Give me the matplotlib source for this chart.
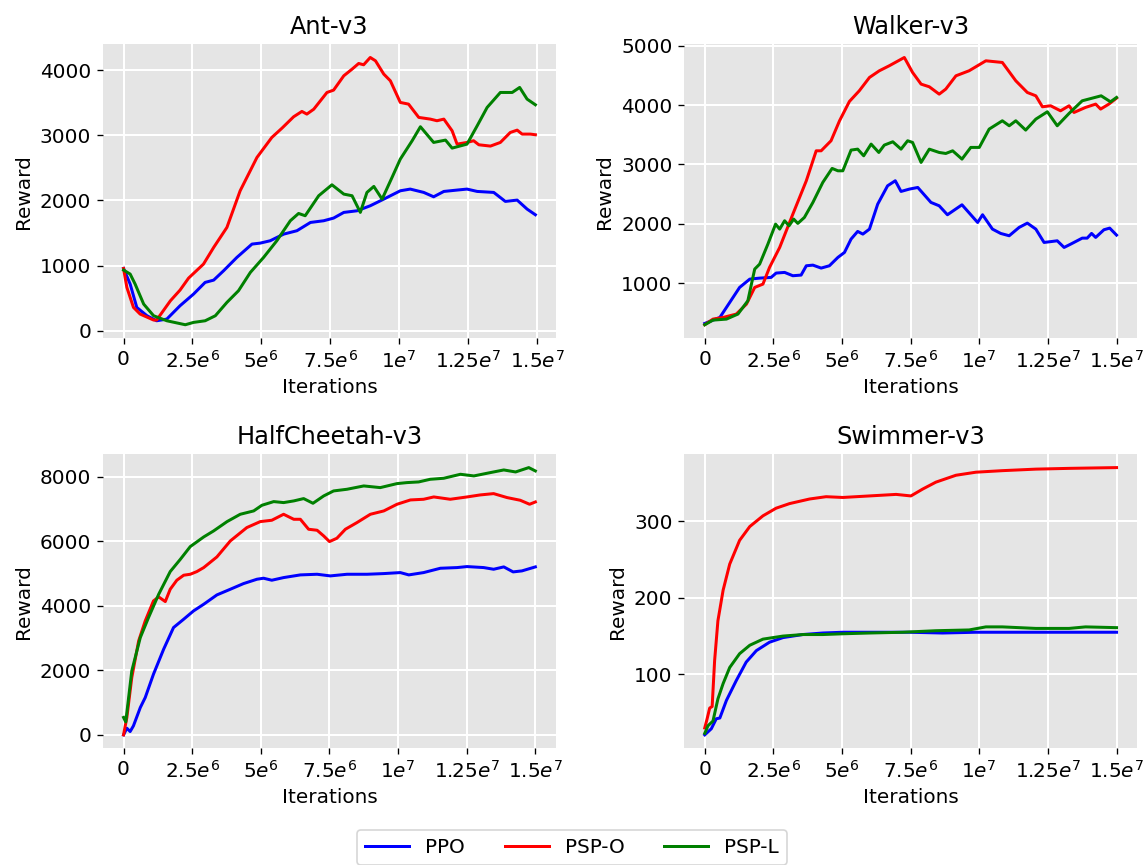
import matplotlib
matplotlib.use("Agg")
import matplotlib.pyplot as plt

# Ant-v3
ant_ppo_x = [0, 0.24, 0.48, 0.85, 1.2, 1.57, 2.05, 2.54, 2.96, 3.27, 3.63, 4.11, 4.66, 4.96, 5.32,
             5.81, 6.29, 6.78, 7.26, 7.62, 7.99, 8.47, 8.95, 9.44, 10.04, 10.4, 10.89, 11.25, 11.62,
             12.1, 12.46, 12.83, 13.43, 13.85, 14.28, 14.64, 14.94]
ant_ppo_y = [956, 716, 358, 230, 153, 179, 384, 563, 742, 777, 921, 1125, 1330, 1345, 1381,
             1483, 1535, 1662, 1688, 1729, 1816, 1841, 1918, 2020, 2148, 2174, 2123, 2056, 2138,
             2159, 2174, 2138, 2123, 1985, 2005, 1867, 1780]
ant_pspo_x = [0, 0.12, 0.36, 0.6, 1.09, 1.2, 1.7, 2.05, 2.36, 2.9, 3.27, 3.75, 4.23, 4.84, 5.38,
              5.75, 6.17, 6.47, 6.65, 6.9, 7.38, 7.62, 7.99, 8.29, 8.53, 8.71, 8.95, 9.14, 9.44,
              9.68, 10.04, 10.34, 10.71, 11.13, 11.37, 11.62, 11.92, 12.1, 12.46, 12.7, 12.89,
              13.31, 13.67, 14.03, 14.28, 14.46, 14.76, 14.94]
ant_pspo_y = [956, 665, 358, 256, 164, 164, 460, 624, 808, 1023, 1279, 1586, 2148, 2660, 2967,
              3110, 3284, 3366, 3325, 3400, 3657, 3693, 3913, 4015, 4102, 4082, 4194, 4143, 3939,
              3836, 3504, 3478, 3274, 3248, 3223, 3248, 3069, 2864, 2890, 2916, 2854,
              2834, 2890, 3043, 3079, 3018, 3018, 3008]
ant_pspl_x = [0, 0.24, 0.42, 0.73, 1.09, 1.57, 2.24, 2.54, 2.96, 3.33, 3.75, 4.17, 4.6, 5.08,
              5.56, 6.05, 6.35, 6.59, 7.08, 7.56, 7.99, 8.29, 8.59, 8.83, 9.08, 9.38, 9.74,
              10.04, 10.47, 10.77, 11.25, 11.68, 11.92, 12.46, 12.83, 13.19, 13.67, 14.1,
              14.37, 14.64, 14.94]
ant_pspl_y = [931, 870, 716, 409, 230, 153, 92, 128, 153, 230, 435, 614, 895, 1125,
              1381, 1688, 1800, 1765, 2072, 2240, 2097, 2072, 1816, 2123, 2215, 2020, 2353,
              2634, 2916, 3131, 2890, 2926, 2803, 2864, 3146, 3427, 3657, 3657,
              3734, 3555, 3468]

# Walker-v3
walker_ppo_x = [0, 0.55, 0.91, 1.27, 1.64, 2.0, 2.42, 2.6, 2.91, 3.21, 3.51, 3.7, 3.94, 4.24,
                4.54, 4.85, 5.09, 5.33, 5.57, 5.76, 6.0, 6.3, 6.66, 6.94, 7.15, 7.45, 7.76,
                8.24, 8.54, 8.84, 9.37, 9.94, 10.12, 10.48, 10.78, 11.09, 11.45, 11.75, 12.06,
                12.36, 12.84, 13.09, 13.33, 13.75, 13.93, 14.09, 14.24, 14.54, 14.75, 15.0]
walker_ppo_y = [320, 421, 674, 927, 1067, 1084, 1096, 1169, 1180, 1124, 1135, 1292, 1303, 1253,
                1292, 1433, 1517, 1742, 1871, 1826, 1910, 2331, 2640, 2725, 2545, 2584, 2612,
                2360, 2303, 2152, 2320, 2022, 2152, 1910, 1837, 1798, 1938, 2011, 1910,
                1685, 1713, 1601, 1657, 1758, 1758, 1837, 1770, 1899, 1927, 1809]
walker_pspo_x = [0, 0.3, 0.67, 1.15, 1.52, 1.82, 2.12, 2.36, 2.73, 3.21, 3.7, 4.06, 4.24, 4.6,
                 4.91, 5.27, 5.63, 6.0, 6.36, 6.72, 7.27, 7.57, 7.88, 8.18, 8.54, 8.78, 9.15,
                 9.63, 10.24, 10.84, 11.33, 11.75, 12.06, 12.3, 12.6, 12.96, 13.27, 13.45,
                 13.87, 14.24, 14.42, 14.72, 15.0]
walker_pspo_y = [298, 393, 421, 478, 646, 927, 983, 1264, 1601, 2163, 2725, 3230, 3230, 3399,
                 3736, 4062, 4242, 4466, 4579, 4663, 4803, 4551, 4354, 4309, 4185, 4270, 4494,
                 4579, 4747, 4719, 4410, 4213, 4157, 3972, 3989, 3904, 3989, 3876,
                 3961, 4017, 3933, 4017, 4118]
walker_pspl_x = [0, 0.3, 0.79, 1.21, 1.57, 1.82, 2.0, 2.3, 2.58, 2.73, 2.91, 3.07, 3.24, 3.39,
                 3.63, 3.94, 4.3, 4.64, 4.85, 5.03, 5.33, 5.57, 5.79, 6.06, 6.34, 6.54, 6.85,
                 7.15, 7.39, 7.57, 7.88, 8.18, 8.54, 8.78, 9.03, 9.37, 9.69, 10.0, 10.36,
                 10.84, 11.09, 11.33, 11.69, 12.06, 12.48, 12.84, 13.27, 13.75, 14.12, 14.44,
                 14.78, 15.0]
walker_pspl_y = [298, 376, 393, 478, 702, 1236, 1320, 1657, 1994, 1910, 2051, 1966, 2079, 2006,
                 2107, 2360, 2697, 2933, 2893, 2893, 3242, 3258, 3146, 3343, 3202, 3326, 3382,
                 3258, 3399, 3371, 3034, 3258, 3202, 3185, 3230, 3090, 3287, 3287, 3596,
                 3736, 3652, 3736, 3579, 3764, 3888, 3652, 3860, 4073, 4118, 4157,
                 4056, 4129]

# HalfCheetah-v3
cheetah_ppo_x = [0, 0.12, 0.24, 0.36, 0.61, 0.79, 1.09, 1.46, 1.82, 2.19, 2.55, 2.92, 3.4, 3.89,
                 4.37, 4.86, 5.1, 5.4, 5.83, 6.44, 7.05, 7.53, 8.14, 8.87, 9.48, 10.08, 10.39,
                 10.93, 11.54, 12.15, 12.51, 13.12, 13.48, 13.85, 14.19, 14.51, 15.0]
cheetah_ppo_y = [0, 206, 103, 279, 846, 1156, 1879, 2653, 3324, 3582, 3840, 4046, 4335, 4511,
                 4686, 4821, 4852, 4790, 4872, 4955, 4975, 4924, 4975, 4975, 4996, 5027, 4955,
                 5027, 5161, 5182, 5213, 5182, 5130, 5203, 5048, 5079, 5203]
cheetah_pspo_x = [0, 0.12, 0.3, 0.55, 0.79, 1.09, 1.28, 1.52, 1.7, 1.94, 2.19, 2.43, 2.67, 2.92,
                  3.4, 3.89, 4.49, 4.98, 5.4, 5.83, 6.2, 6.44, 6.74, 7.05, 7.29, 7.5, 7.77,
                  8.08, 8.5, 8.99, 9.48, 9.96, 10.45, 10.93, 11.3, 11.9, 12.51, 12.99, 13.48,
                  13.97, 14.45, 14.79, 15.0]
cheetah_pspo_y = [0, 537, 1776, 2911, 3530, 4149, 4273, 4129, 4511, 4790, 4945, 4975, 5058, 5182,
                  5512, 6008, 6421, 6606, 6648, 6833, 6678, 6678, 6369, 6338, 6162, 5987, 6090,
                  6369, 6575, 6833, 6937, 7143, 7277, 7298, 7370, 7298, 7370, 7432, 7473,
                  7350, 7267, 7143, 7215]
cheetah_pspl_x = [0, 0.08, 0.3, 0.61, 0.91, 1.28, 1.7, 2.07, 2.43, 2.92, 3.28, 3.77, 4.25, 4.74,
                  5.04, 5.47, 5.83, 6.2, 6.56, 6.9, 7.29, 7.65, 8.14, 8.75, 9.35, 9.96, 10.32,
                  10.75, 11.17, 11.66, 12.27, 12.76, 13.36, 13.85, 14.28, 14.76, 15.0]
cheetah_pspl_y = [540, 400, 1982, 3014, 3634, 4356, 5058, 5440, 5832, 6131, 6317, 6606, 6833, 6937,
                  7112, 7226, 7195, 7247, 7319, 7174, 7401, 7556, 7608, 7711, 7659, 7783, 7814,
                  7835, 7917, 7948, 8072, 8021, 8124, 8206, 8144, 8279, 8175]

# Swimmer-v3
swimmer_ppo_x = [0, 0.24, 0.42, 0.55, 0.79, 1.15, 1.51, 1.88, 2.36, 2.85, 3.57, 4.3, 5.03, 6.24,
                 7.45, 8.66, 9.88, 12.06, 15.0]
swimmer_ppo_y = [21, 29, 42, 43, 66, 92, 116, 131, 142, 148, 152, 154, 155, 155,
                 155, 154, 155, 155, 155]
swimmer_pspo_x = [0, 0.08, 0.18, 0.27, 0.36, 0.48, 0.67, 0.91, 1.27, 1.64, 2.12, 2.6, 3.09, 3.82,
                  4.42, 5.03, 6.0, 6.97, 7.51, 7.94, 8.42, 9.15, 9.88, 10.84, 12.06, 13.27, 15.0]
swimmer_pspo_y = [30, 41, 56, 58, 118, 170, 210, 244, 275, 293, 307, 317, 323, 329,
                  332, 331, 333, 335, 333, 342, 351, 360, 364, 366, 368, 369, 370]
swimmer_pspl_x = [0, 0.12, 0.3, 0.48, 0.67, 0.91, 1.27, 1.64, 2.12, 2.85, 3.57, 4.3, 5.03, 6.0,
                  7.21, 8.42, 9.63, 10.24, 10.84, 12.06, 13.27, 13.87, 15.0]
swimmer_pspl_y = [23, 33, 39, 68, 88, 109, 127, 138, 146, 150, 152, 152, 153, 154,
                  155, 157, 158, 162, 162, 160, 160, 162, 161]

envs = ["Ant-v3", "Walker-v3", "HalfCheetah-v3", "Swimmer-v3"]
series = [
    [(ant_ppo_x, ant_ppo_y), (ant_pspo_x, ant_pspo_y), (ant_pspl_x, ant_pspl_y)],
    [(walker_ppo_x, walker_ppo_y), (walker_pspo_x, walker_pspo_y), (walker_pspl_x, walker_pspl_y)],
    [(cheetah_ppo_x, cheetah_ppo_y), (cheetah_pspo_x, cheetah_pspo_y), (cheetah_pspl_x, cheetah_pspl_y)],
    [(swimmer_ppo_x, swimmer_ppo_y), (swimmer_pspo_x, swimmer_pspo_y), (swimmer_pspl_x, swimmer_pspl_y)],
]
labels = ["PPO", "PSP-O", "PSP-L"]
colors = ["blue", "red", "green"]

x_ticks = [0, 2.5e6, 5e6, 7.5e6, 1e7, 1.25e7, 1.5e7]
x_tick_labels = ["0", r"$2.5e^{6}$", r"$5e^{6}$", r"$7.5e^{6}$", r"$1e^{7}$", r"$1.25e^{7}$", r"$1.5e^{7}$"]

plt.rcParams["font.size"] = 12
plt.rcParams["font.family"] = ["DejaVu Sans"]

fig, axes = plt.subplots(2, 2, figsize=(1144 / 120, 865 / 120), dpi=120)
fig.subplots_adjust(left=0.090, right=0.994, top=0.949, bottom=0.135, wspace=0.283, hspace=0.395)

for ax, env, data in zip(axes.flat, envs, series):
    ax.set_facecolor("#E5E5E5")
    ax.grid(True, color="white", linewidth=1.2)
    ax.set_axisbelow(True)
    for sp in ax.spines.values():
        sp.set_visible(False)
    for (x, y), lab, c in zip(data, labels, colors):
        ax.plot([v * 1e6 for v in x], y, color=c, linewidth=1.8, label=lab)
    ax.set_xticks(x_ticks)
    ax.set_xticklabels(x_tick_labels)
    ax.tick_params(direction="out", color="black", labelcolor="black", labelsize=12)
    ax.set_title(env, fontsize=14.4)
    ax.set_xlabel("Iterations")
    ax.set_ylabel("Reward")

handles, labs = axes[0, 0].get_legend_handles_labels()
fig.legend(handles, labs, loc="lower center", ncol=3, handlelength=2.2,
           bbox_to_anchor=(0.5, -0.012))

fig.savefig("out.png", dpi=120)
